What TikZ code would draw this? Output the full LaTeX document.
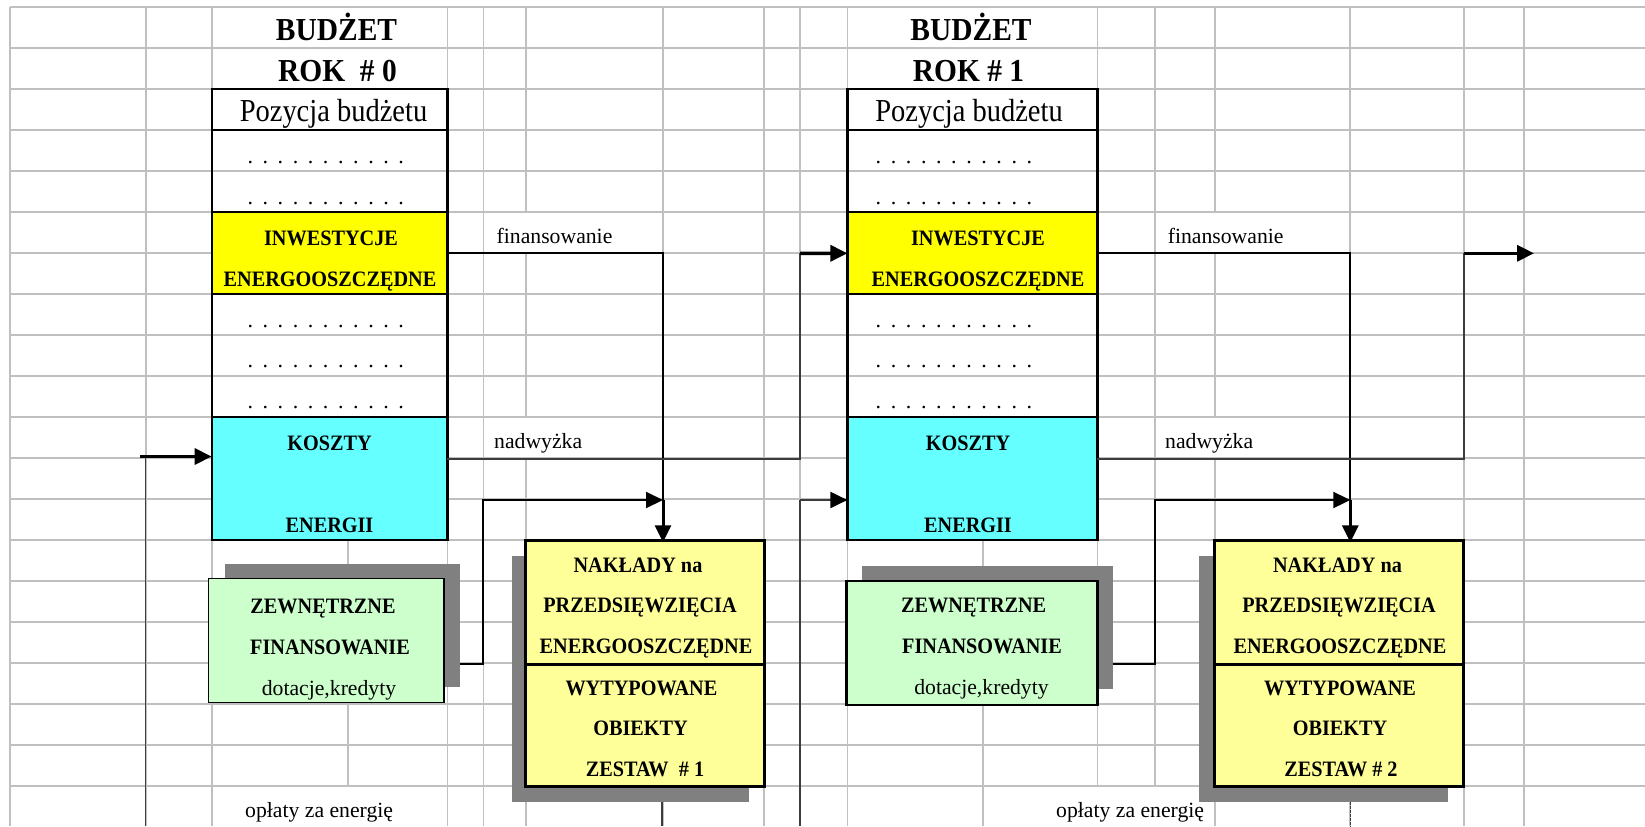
\documentclass[tikz,border=0pt]{standalone}
\usepackage{fontspec}
\setmainfont{Liberation Serif}
\newfontfamily\hdfont[FakeStretch=0.92]{Liberation Serif}
\newfontfamily\posfont[FakeStretch=0.89]{Liberation Serif}
\newfontfamily\bxfont[FakeStretch=0.92]{Liberation Serif}
\usetikzlibrary{arrows.meta}
\definecolor{gridc}{RGB}{192,192,192}
\definecolor{invc}{RGB}{255,255,0}
\definecolor{kosc}{RGB}{102,255,255}
\definecolor{nakc}{RGB}{255,255,153}
\definecolor{zewc}{RGB}{204,255,204}
\definecolor{shadc}{RGB}{128,128,128}
\definecolor{linkc}{RGB}{60,60,60}
\newcommand\dd{\makebox[15.1bp]{.}}
\newcommand\dotrow{\dd\dd\dd\dd\dd\dd\dd\dd\dd\dd\dd}
\tikzset{
  gline/.style={draw=gridc,line width=1.8bp},
  rect/.style 2 args={minimum width=#1bp,minimum height=#2bp,anchor=north west,inner sep=0pt,outer sep=0pt},
  cellb/.style={draw=black,line width=2.2bp},
  shad/.style={fill=shadc,draw=none},
  hdr/.style={anchor=base,inner sep=0pt,font=\hdfont\bfseries\fontsize{32bp}{34bp}\selectfont},
  poztext/.style={anchor=base,inner sep=0pt,font=\posfont\fontsize{32bp}{34bp}\selectfont},
  bx/.style={anchor=base,inner sep=0pt,font=\bxfont\bfseries\fontsize{22bp}{24bp}\selectfont},
  lbl/.style={anchor=base west,inner sep=0pt,font=\fontsize{21.7bp}{24bp}\selectfont},
  clbl/.style={anchor=base,inner sep=0pt,font=\fontsize{21.7bp}{24bp}\selectfont},
  dotsrow/.style={anchor=base west,inner sep=0pt,font=\fontsize{22bp}{24bp}\selectfont},
  conn/.style={draw=black,line width=2bp},
  nadw/.style={draw=linkc,line width=2bp},
  thinl/.style={draw=linkc,line width=1.3bp},
  arrhead/.style={-{Triangle[length=17bp,width=16bp,color=black]}},
  thickarr/.style={draw=black,line width=3.5bp,arrhead},
}
\begin{document}
\begin{tikzpicture}[x=1bp,y=-1bp]
\useasboundingbox (0,0) rectangle (1645,826);
% ---------- grid ----------
\foreach \k in {0,...,19} \draw[gline] (9.8,{7.3+41*\k}) -- (1645,{7.3+41*\k});
\foreach \xx/\ya/\yb in {9.8/7.3/826,145.6/7.3/826,211.6/7.3/826,347.7/540.3/786.3,
  447.4/7.3/826,483.5/7.3/826,526.3/7.3/212.3,526.3/253.3/417.3,526.3/458.3/826,
  663/7.3/826,764/7.3/826,800.2/7.3/826,847.4/7.3/826,983.2/540.3/826,
  1097.4/7.3/786.3,1154.6/7.3/786.3,1214.7/7.3/212.3,1214.7/253.3/417.3,1214.7/458.3/826,
  1350.3/7.3/826,1463.9/7.3/826,1524/7.3/826}
  \draw[gline] (\xx,\ya) -- (\xx,\yb);
% ---------- budget box 1 ----------
\node[rect={235.8}{82},fill=invc,cellb] (b1inv) at (211.6,212.3) {};
\node[rect={235.8}{123},fill=kosc,cellb] (b1kos) at (211.6,417.3) {};
\node[rect={235.8}{41},cellb] (b1pos) at (211.6,89.3) {};
\node[rect={235.8}{451},cellb] (b1) at (211.6,89.3) {};
% ---------- budget box 2 ----------
\node[rect={250}{82},fill=invc,cellb] (b2inv) at (847.4,212.3) {};
\node[rect={250}{123},fill=kosc,cellb] (b2kos) at (847.4,417.3) {};
\node[rect={250}{41},cellb] (b2pos) at (847.4,89.3) {};
\node[rect={250}{451},cellb] (b2) at (847.4,89.3) {};
% ---------- shadows ----------
\node[rect={235.8}{122.7},shad] (zew1s) at (224.6,564) {};
\node[rect={250.5}{123},shad] (zew2s) at (862,566) {};
\node[rect={236.8}{245.7},shad] (nak1s) at (512,556) {};
\node[rect={249}{245.7},shad] (nak2s) at (1199.3,556) {};
% ---------- green boxes ----------
\node[rect={235.8}{124},fill=zewc,draw=black,line width=1.3bp] (zew1) at (208.3,578.3) {};
\node[rect={251}{124},fill=zewc,draw=black,line width=2.4bp] (zew2) at (846.5,581) {};
% ---------- yellow boxes ----------
\node[rect={238.4}{246.2},fill=nakc,draw=black,line width=3bp] (nak1) at (525.8,540.3) {};
\node[rect={249.3}{246.2},fill=nakc,draw=black,line width=3bp] (nak2) at (1214,540.3) {};
\draw[line width=3bp] (nak1.west |- 0,664.3) -- (nak1.east |- 0,664.3);
\draw[line width=3bp] (nak2.west |- 0,664.3) -- (nak2.east |- 0,664.3);
% ---------- junction coordinates ----------
\coordinate (a1) at (145.6,826);
\coordinate (a2) at (145.6,457.5);
\coordinate (a3) at (140.4,456.5);
\coordinate (fin1) at (663,500);
\coordinate (g1a) at (460.4,664.3);
\coordinate (g1b) at (482.9,500);
\coordinate (n1a) at (447.4,458.8);
\coordinate (n1b) at (800.2,253.3);
\coordinate (e1) at (800.2,826);
\coordinate (e2) at (800.2,500);
\coordinate (f1) at (662,826);
\coordinate (fin2) at (1350.3,500);
\coordinate (g2a) at (1112.5,664.3);
\coordinate (g2b) at (1154.6,500);
\coordinate (n2a) at (1097.4,458.8);
\coordinate (n2b) at (1463.9,253.3);
\coordinate (n2c) at (1534,253.3);
\coordinate (f2) at (1350.6,826);
% ---------- connectors, year 0 ----------
\draw[thinl] (a1) -- (a2);
\draw[thickarr] (a3) -- (b1kos.west |- a3);
\draw[conn] (b1inv.east) -| (fin1);
\draw[thickarr,line width=3bp,shorten >=-2bp] (fin1) -- (fin1 |- nak1.north);
\draw[conn,arrhead] (g1a) -| (g1b) -- (fin1);
\draw[nadw] (n1a) -| (n1b);
\draw[thickarr] (n1b) -- (b2inv.west);
\draw[nadw] (e1) -- (e2);
\draw[nadw,arrhead] (e2) -- (b2kos.west |- e2);
\draw[thinl] (nak1s.south -| f1) -- (f1);
% ---------- connectors, year 1 ----------
\draw[conn] (b2inv.east) -| (fin2);
\draw[thickarr,line width=3bp,shorten >=-2bp] (fin2) -- (fin2 |- nak2.north);
\draw[conn,arrhead] (g2a) -| (g2b) -- (fin2);
\draw[nadw] (n2a) -| (n2b);
\draw[thickarr] (n2b) -- (n2c);
\draw[thinl,dash pattern=on 3bp off 1bp] (nak2s.south -| f2) -- (f2);
% ---------- texts, year 0 ----------
\node[hdr] (t1a) at (336.5,40) {BUDŻET};
\node[hdr] (t1b) at (337.5,81.7) {ROK~~\#~0};
\node[poztext] (t1c) at (333.5,121.7) {Pozycja budżetu};
\node[dotsrow] (d1a) at (242.5,163.5) {\dotrow};
\node[dotsrow] (d1b) at (242.5,204) {\dotrow};
\node[dotsrow] (d1c) at (242.5,327) {\dotrow};
\node[dotsrow] (d1d) at (242.5,367.5) {\dotrow};
\node[dotsrow] (d1e) at (242.5,408) {\dotrow};
\node[bx] (t1d) at (331,245) {INWESTYCJE};
\node[bx] (t1e) at (330,286) {ENERGOOSZCZĘDNE};
\node[bx] (t1f) at (329.5,450) {KOSZTY};
\node[bx] (t1g) at (329.5,532) {ENERGII};
\node[bx] (t1h) at (323,613.3) {ZEWNĘTRZNE};
\node[bx] (t1i) at (330,654.3) {FINANSOWANIE};
\node[clbl] (t1j) at (329,695) {dotacje,kredyty};
\node[bx] (t1k) at (638,572.3) {NAKŁADY na};
\node[bx] (t1l) at (640,612.7) {PRZEDSIĘWZIĘCIA};
\node[bx] (t1m) at (646,653.3) {ENERGOOSZCZĘDNE};
\node[bx] (t1n) at (641.4,695) {WYTYPOWANE};
\node[bx] (t1o) at (640.6,735.7) {OBIEKTY};
\node[bx] (t1p) at (645,776) {ZESTAW~~\#~1};
\node[lbl] (l1a) at (496.5,243.5) {finansowanie};
\node[lbl] (l1b) at (494,448.5) {nadwyżka};
\node[lbl] (l1c) at (245,817.5) {opłaty za energię};
% ---------- texts, year 1 ----------
\node[hdr] (t2a) at (971,40) {BUDŻET};
\node[hdr] (t2b) at (968.5,81.7) {ROK~\#~1};
\node[poztext] (t2c) at (969,121.7) {Pozycja budżetu};
\node[dotsrow] (d2a) at (870.7,163.5) {\dotrow};
\node[dotsrow] (d2b) at (870.7,204) {\dotrow};
\node[dotsrow] (d2c) at (870.7,327) {\dotrow};
\node[dotsrow] (d2d) at (870.7,367.5) {\dotrow};
\node[dotsrow] (d2e) at (870.7,408) {\dotrow};
\node[bx] (t2d) at (978,245) {INWESTYCJE};
\node[bx] (t2e) at (978,286) {ENERGOOSZCZĘDNE};
\node[bx] (t2f) at (968,450) {KOSZTY};
\node[bx] (t2g) at (968,532) {ENERGII};
\node[bx] (t2h) at (973.7,612.7) {ZEWNĘTRZNE};
\node[bx] (t2i) at (982,653.3) {FINANSOWANIE};
\node[clbl] (t2j) at (981.5,694) {dotacje,kredyty};
\node[bx] (t2k) at (1337.5,572.3) {NAKŁADY na};
\node[bx] (t2l) at (1339,612.7) {PRZEDSIĘWZIĘCIA};
\node[bx] (t2m) at (1340,653.3) {ENERGOOSZCZĘDNE};
\node[bx] (t2n) at (1340,695) {WYTYPOWANE};
\node[bx] (t2o) at (1340,735.7) {OBIEKTY};
\node[bx] (t2p) at (1341,776) {ZESTAW~\#~2};
\node[lbl] (l2a) at (1167.6,243.5) {finansowanie};
\node[lbl] (l2b) at (1165,448.5) {nadwyżka};
\node[lbl] (l2c) at (1056,817.5) {opłaty za energię};
\end{tikzpicture}
\end{document}
